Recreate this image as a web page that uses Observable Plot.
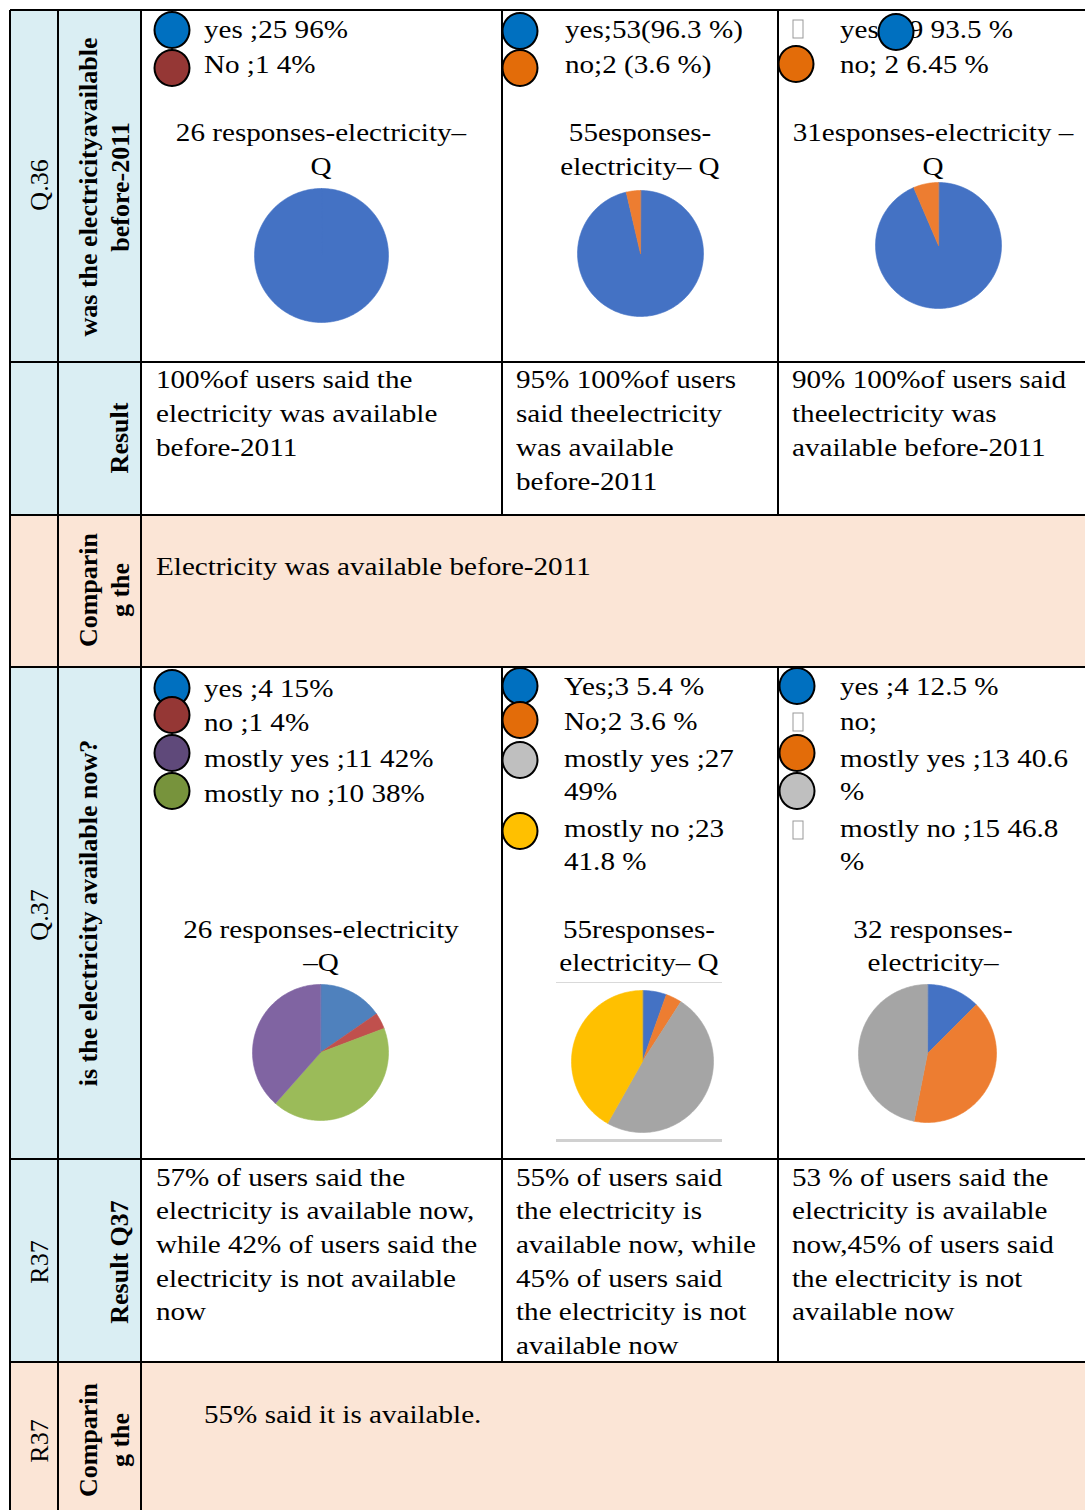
<!DOCTYPE html>
<html><head><meta charset="utf-8">
<script src="https://cdn.jsdelivr.net/npm/d3@7"></script>
<script src="https://cdn.jsdelivr.net/npm/@observablehq/plot@0.6"></script>
<style>
body{margin:0;background:#fff;font-family:"Liberation Serif",serif;color:#000;}
#page{position:relative;width:1085px;height:1510px;overflow:hidden;background:#fff;font-family:"Liberation Serif",serif}
.bg{position:absolute}
.ln{position:absolute;background:#000}
.t{position:absolute;white-space:nowrap;font-family:"Liberation Serif",serif;font-size:26px;line-height:34px;height:34px;transform-origin:left center;transform:scaleX(1.12)}
.tc{position:absolute;white-space:nowrap;font-family:"Liberation Serif",serif;font-size:26px;line-height:34px;height:34px;transform:translateX(-50%) scaleX(1.12)}
.rot{position:absolute;white-space:nowrap;font-family:"Liberation Serif",serif;transform:translate(-50%,-50%) rotate(-90deg);text-align:center;font-size:26px;line-height:32px}
.b{font-weight:bold}
.sw{position:absolute;width:37px;height:38px;border-radius:50%;border:2px solid #000;box-sizing:border-box;transform:translate(-50%,-50%)}
.tofu{position:absolute;width:11px;height:19px;border:1px solid #999;box-sizing:border-box;transform:translate(-50%,-50%);background:#fff}
.pie{position:absolute}
</style>
</head><body><div id="page"></div>
<script>
// ---------- DATA ----------
// Q36 legends (text as printed)
const q36LegendA = ["yes ;25 96%", "No ;1 4%"];
const q36LegendB = ["yes;53(96.3 %)", "no;2 (3.6 %)"];
const q36LegendC = ["yes ;29 93.5 %", "no; 2 6.45 %"];
const q36SwatchA = ["#0070c0", "#953735"];
const q36SwatchB = ["#0070c0", "#e36c09"];
const q36SwatchC = ["#0070c0", "#e36c09"];
// Q36 pie titles
const q36TitleA = ["26 responses-electricity–", "Q"];
const q36TitleB = ["55esponses-", "electricity– Q"];
const q36TitleC = ["31esponses-electricity –", "Q"];
// Q36 pie slices (yes, no) as drawn
const q36Cats = ["yes", "no"];
const q36PieA = [100, 0];
const q36PieB = [53, 2];
const q36PieC = [29, 2];
const q36PieColors = ["#4472c4", "#ed7d31"];
// Q36 results
const q36ResultA = ["100%of users said the", "electricity was available", "before-2011"];
const q36ResultB = ["95%  100%of users", "said theelectricity", "was available", "before-2011"];
const q36ResultC = ["90%  100%of users said", "theelectricity was", "available before-2011"];
const q36Compare = "Electricity was available before-2011";

// Q37 legends
const q37LegendA = ["yes ;4 15%", "no ;1 4%", "mostly  yes ;11 42%", "mostly no ;10 38%"];
const q37LegendB = ["Yes;3 5.4 %", "No;2 3.6 %", "mostly yes ;27", "49%", "mostly no ;23", "41.8 %"];
const q37LegendC = ["yes ;4 12.5 %", "no;", "mostly yes ;13 40.6", "%", "mostly no ;15 46.8", "%"];
const q37SwatchA = ["#0070c0", "#953735", "#5f497a", "#77933c"];
const q37SwatchB = ["#0070c0", "#e36c09", "#bfbfbf", "#ffc000"];
const q37SwatchC = ["#0070c0", "#e36c09", "#bfbfbf"];
// Q37 pie titles
const q37TitleA = ["26 responses-electricity", "–Q"];
const q37TitleB = ["55responses-", "electricity– Q"];
const q37TitleC = ["32 responses-", "electricity–"];
// Q37 pie slices (yes, no, mostly yes, mostly no)
const q37Cats = ["yes", "no", "mostly yes", "mostly no"];
const q37PieA = [4, 1, 11, 10];
const q37PieB = [3, 2, 27, 23];
const q37PieC = [4, 0, 13, 15];
const q37PieColorsA = ["#4f81bd", "#c0504d", "#9bbb59", "#8064a2"];
const q37PieColorsB = ["#4472c4", "#ed7d31", "#a5a5a5", "#ffc000"];
const q37PieColorsC = ["#4472c4", "#ffc000", "#ed7d31", "#a5a5a5"];
// Q37 results
const q37ResultA = ["57% of users said the", "electricity is available now,", "while 42% of users said the", "electricity is not available", "now"];
const q37ResultB = ["55% of users said", "the electricity is", "available now, while", "45% of users said", "the electricity is not", "available now"];
const q37ResultC = ["53 % of users said the", "electricity is available", "now,45% of users said", "the electricity is not", "available now"];
const q37Compare = "55% said it is available.";

// Row headers
const rowCodes = ["Q.36", "Q.37", "R37", "R37"];
const rowQuestions = [["was the electricityavailable", "before-2011"], ["is the electricity available now?"]];
const rowKinds = ["Result", "Result Q37", ["Comparin", "g the"]];

// ---------- LAYOUT ----------
const page = document.getElementById("page");
const colX = [10, 58, 141, 502, 778, 1100];
const rowY = [10, 362, 515, 667, 1159, 1362, 1530];
const BLUE = "#daeef3", PEACH = "#fbe5d6";

function box(cls, x, y, w, h, color) {
  const d = document.createElement("div");
  d.className = cls;
  Object.assign(d.style, {left: x + "px", top: y + "px", width: w + "px", height: h + "px"});
  if (color) d.style.background = color;
  page.appendChild(d);
  return d;
}
// backgrounds
[0, 1, 3, 4].forEach(r => box("bg", colX[0], rowY[r], colX[2] - colX[0], rowY[r + 1] - rowY[r], BLUE));
[2, 5].forEach(r => box("bg", colX[0], rowY[r], colX[5] - colX[0], rowY[r + 1] - rowY[r], PEACH));

// text helpers
function text(x, yc, s, cls = "t") {
  const d = document.createElement("div");
  d.className = cls;
  d.textContent = s;
  d.style.left = x + "px";
  d.style.top = (yc - 18) + "px";
  page.appendChild(d);
  return d;
}
function lines(x, ys, arr, cls) { arr.forEach((s, i) => text(x, ys[i], s, cls)); }
function rot(cx, cy, arr, bold, size) {
  const d = document.createElement("div");
  d.className = "rot" + (bold ? " b" : "");
  d.innerHTML = arr.map(s => s.replace(/&/g, "&amp;")).join("<br>");
  d.style.left = cx + "px";
  d.style.top = cy + "px";
  if (size) d.style.fontSize = size + "px";
  page.appendChild(d);
}
function swatch(cx, cy, color) {
  const d = document.createElement("div");
  d.className = "sw";
  d.style.left = cx + "px"; d.style.top = cy + "px"; d.style.background = color;
  page.appendChild(d);
}
function tofu(cx, cy) {
  const d = document.createElement("div");
  d.className = "tofu";
  d.style.left = cx + "px"; d.style.top = cy + "px";
  page.appendChild(d);
}

// pie with Observable Plot
function pie(cats, values, colors, cx, cy, r) {
  const arcs = d3.pie().sort(null).value(d => d)(values);
  const pts = [];
  arcs.forEach((a, i) => {
    const span = a.endAngle - a.startAngle;
    if (span <= 0) return;
    pts.push({k: cats[i], x: 0, y: 0, c: colors[i]});
    const n = Math.max(2, Math.ceil(span / 0.02));
    for (let j = 0; j <= n; j++) {
      const t = a.startAngle + span * j / n;
      pts.push({k: cats[i], x: Math.sin(t), y: Math.cos(t), c: colors[i]});
    }
  });
  const chart = Plot.plot({
    width: 2 * r, height: 2 * r, margin: 0,
    style: {background: "transparent", overflow: "visible"},
    x: {domain: [-1, 1], axis: null},
    y: {domain: [-1, 1], axis: null},
    color: {type: "identity"},
    marks: [Plot.line(pts, {x: "x", y: "y", z: "k", fill: "c", stroke: "c", strokeWidth: 0.6, curve: "linear-closed"})]
  });
  const d = document.createElement("div");
  d.className = "pie";
  Object.assign(d.style, {left: (cx - r) + "px", top: (cy - r) + "px", width: 2 * r + "px", height: 2 * r + "px"});
  d.appendChild(chart);
  page.appendChild(d);
}

// ---------- Q36 row ----------
q36SwatchA.forEach((c, i) => swatch(172, [30, 68][i], c));
lines(204, [31, 66], q36LegendA);
q36SwatchB.forEach((c, i) => swatch(520, [31, 68][i], c));
lines(565, [31, 66], q36LegendB);
tofu(798, 29);
lines(840, [31, 66], q36LegendC);
swatch(896, 32, q36SwatchC[0]);
swatch(796, 64, q36SwatchC[1]);

lines(321, [134, 168], q36TitleA, "tc");
lines(640, [134, 168], q36TitleB, "tc");
lines(933, [134, 168], q36TitleC, "tc");

pie(q36Cats, q36PieA, q36PieColors, 321, 255, 67);
pie(q36Cats, q36PieB, q36PieColors, 640, 253, 63);
pie(q36Cats, q36PieC, q36PieColors, 938, 245, 63);

// results
const resY = [381, 415, 449, 483];
lines(156, resY, q36ResultA);
lines(516, resY, q36ResultB);
lines(792, resY, q36ResultC);
text(156, 568, q36Compare);

// ---------- Q37 row ----------
q37SwatchA.forEach((c, i) => swatch(172, [688, 715, 753, 791][i], c));
lines(204, [690, 724, 760, 795], q37LegendA);
q37SwatchB.forEach((c, i) => swatch(520, [686, 720, 760, 831][i], c));
const legY = [688, 723, 760, 793, 830, 863];
lines(564, legY, q37LegendB);
swatch(797, 686, q37SwatchC[0]);
tofu(798, 722);
swatch(797, 753, q37SwatchC[1]);
swatch(797, 791, q37SwatchC[2]);
tofu(798, 830);
lines(840, legY, q37LegendC);

lines(321, [931, 964], q37TitleA, "tc");
lines(639, [931, 964], q37TitleB, "tc");
lines(933, [931, 964], q37TitleC, "tc");

// chart frame lines of the middle pie
box("bg", 556, 982, 166, 1, "#d9d9d9");
box("bg", 556, 1139, 166, 3, "#d0d0d0");

pie(q37Cats, q37PieA, q37PieColorsA, 320, 1052, 68);
pie(q37Cats, q37PieB, q37PieColorsB, 642, 1061, 71);
pie(q37Cats, q37PieC, q37PieColorsC, 927, 1053, 69);

const res2Y = [1179, 1212, 1246, 1280, 1313, 1347];
lines(156, res2Y, q37ResultA);
lines(516, res2Y, q37ResultB);
lines(792, res2Y, q37ResultC);
text(204, 1416, q37Compare);

// ---------- headers ----------
rot(40, 185, [rowCodes[0]], false);
rot(40, 915, [rowCodes[1]], false);
rot(40, 1262, [rowCodes[2]], false);
rot(40, 1441, [rowCodes[3]], false);
rot(105, 187, rowQuestions[0], true);
rot(89, 913, rowQuestions[1], true);
rot(120, 438, [rowKinds[0]], true);
rot(120, 1262, [rowKinds[1]], true);
rot(105, 590, rowKinds[2], true);
rot(105, 1440, rowKinds[2], true);

// ---------- grid lines ----------
const LW = 2;
rowY.slice(0, 6).forEach(y => box("ln", colX[0], y - 1, colX[5] - colX[0], LW));
[0, 1, 2].forEach(c => box("ln", colX[c] - 1, rowY[0], LW, rowY[6] - rowY[0]));
[3, 4].forEach(c => {
  box("ln", colX[c] - 1, rowY[0], LW, rowY[2] - rowY[0]);
  box("ln", colX[c] - 1, rowY[3], LW, rowY[5] - rowY[3]);
});
</script>
</body></html>
